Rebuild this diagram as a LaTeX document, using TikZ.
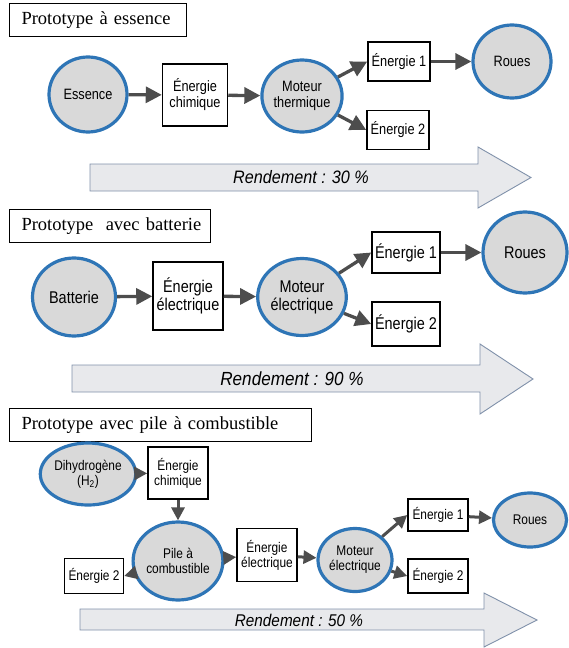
\documentclass[tikz,border=0pt]{standalone}
\usepackage{fontspec}
\setmainfont{Liberation Serif}
\newfontfamily\schemafont[FakeStretch=0.85]{Liberation Sans}
\newfontfamily\rendfont[FakeStretch=0.9]{Liberation Sans}
\usepackage{xcolor}
\usepackage{tikz}
\usetikzlibrary{arrows.meta,shapes.geometric}
\definecolor{bordbleu}{RGB}{46,117,182}
\definecolor{grisrond}{RGB}{217,217,217}
\definecolor{grisfleche}{RGB}{77,77,77}
\definecolor{fondrend}{RGB}{232,233,236}
\definecolor{bordrend}{RGB}{128,145,170}

\begin{document}
\begin{tikzpicture}[x=1pt,y=-1pt,
  titre/.style={draw,line width=1pt,anchor=north west,inner xsep=12pt,inner ysep=0pt,
    align=left,minimum height=33pt,font=\fontsize{18.5}{20}\selectfont},
  rond/.style={ellipse,draw=bordbleu,line width=3.2pt,fill=grisrond,inner sep=0pt,align=center},
  boite/.style={draw,line width=1.5pt,fill=white,inner sep=0pt,align=center},
  fl/.style={draw=grisfleche,line width=3.3pt,-{Triangle[length=16pt,width=16pt]}},
  flp/.style={draw=grisfleche,line width=3pt,-{Triangle[length=13pt,width=13pt]}},
  grande/.style={draw=bordrend,line width=0.9pt,fill=fondrend},
  rend/.style={inner sep=0pt}]
\useasboundingbox (0,0) rectangle (569,648);

% prototype a essence
\node[titre,text width=153pt] (t1) at (9,3) {\mbox{Prototype à essence}};
\begin{scope}[font=\schemafont\fontsize{15}{16}\selectfont]
\node[rond,minimum width=78pt,minimum height=75pt] (ess) at (88,94.5) {Essence};
\node[boite,minimum width=65pt,minimum height=62pt] (chim1) at (195,95) {Énergie\\chimique};
\node[rond,minimum width=78pt,minimum height=72pt] (mot1) at (302,96) {Moteur\\thermique};
\node[boite,minimum width=62pt,minimum height=39pt] (ea1) at (399,61.5) {Énergie 1};
\node[boite,minimum width=62pt,minimum height=39pt] (eb1) at (398,130) {Énergie 2};
\node[rond,minimum width=78pt,minimum height=73pt] (rou1) at (512,61.5) {Roues};
\end{scope}
\draw[fl] (ess) -- (chim1);
\draw[fl] (chim1) -- (mot1);
\draw[fl] (mot1) -- (ea1.west);
\draw[fl] (mot1) -- (eb1.west);
\draw[fl] (ea1) -- (rou1);
\draw[grande] (90,164) -- (478,164) -- (478,147) -- (531,177.5) -- (478,208) -- (478,191) -- (90,191) -- cycle;
\node[rend,font=\rendfont\itshape\fontsize{18}{19}\selectfont] (r1) at (301,177.5) {Rendement : 30 \%};

% prototype avec batterie
\node[titre,text width=177pt] (t2) at (9,209) {\mbox{Prototype \ avec batterie}};
\begin{scope}[font=\schemafont\fontsize{17}{18}\selectfont]
\node[rond,minimum width=83pt,minimum height=78pt] (bat) at (74,297) {Batterie};
\node[boite,minimum width=70pt,minimum height=68pt] (elec2) at (188,296) {Énergie\\électrique};
\node[rond,minimum width=84pt,minimum height=77pt] (mot2) at (302,297) {Moteur\\électrique};
\node[boite,minimum width=68pt,minimum height=41pt] (ea2) at (406,252.5) {Énergie 1};
\node[boite,minimum width=68pt,minimum height=44pt] (eb2) at (406,324) {Énergie 2};
\node[rond,minimum width=84pt,minimum height=81pt] (rou2) at (525,252.5) {Roues};
\end{scope}
\draw[fl] (bat) -- (elec2);
\draw[fl] (elec2) -- (mot2);
\draw[fl] (mot2) -- (ea2.west);
\draw[fl] (mot2) -- (eb2.west);
\draw[fl] (ea2) -- (rou2);
\draw[grande] (72,365) -- (480,365) -- (480,344) -- (533,379) -- (480,414) -- (480,392) -- (72,392) -- cycle;
\node[rend,font=\rendfont\itshape\fontsize{19}{20}\selectfont] (r2) at (292,379) {Rendement : 90 \%};

% prototype avec pile a combustible
\node[titre,text width=278pt] (t3) at (9,408) {\mbox{Prototype avec pile à combustible}};
\begin{scope}[font=\schemafont\fontsize{14}{15}\selectfont]
\node[rond,minimum width=82pt,minimum height=62pt] (dihy) at (88,474) {Dihydrogène\\(H\textsubscript{2})};
\node[boite,minimum width=60pt,minimum height=52pt] (chim3) at (178,473) {Énergie\\chimique};
\node[rond,minimum width=70pt,minimum height=78pt] (pile) at (178,561) {Pile à\\combustible};
\node[boite,minimum width=59pt,minimum height=35pt] (eg3) at (94,576) {Énergie 2};
\node[boite,minimum width=60pt,minimum height=53pt] (elec3) at (267,555) {Énergie\\électrique};
\node[rond,minimum width=74pt,minimum height=63pt] (mot3) at (355,560) {Moteur\\électrique};
\node[boite,minimum width=60pt,minimum height=32pt] (ea3) at (438,515) {Énergie 1};
\node[boite,minimum width=60pt,minimum height=34pt] (eb3) at (438,576) {Énergie 2};
\node[rond,minimum width=73pt,minimum height=54pt] (rou3) at (530,520) {Roues};
\end{scope}
\draw[flp] (dihy) -- (chim3);
\draw[flp] (chim3) -- (pile);
\draw[flp] (pile) -- (eg3.east);
\draw[flp] (pile) -- (elec3);
\draw[flp] (elec3) -- (mot3);
\draw[flp] (mot3) -- (ea3.west);
\draw[flp] (mot3) -- (eb3.west);
\draw[flp] (ea3) -- (rou3);
\draw[grande] (80,609) -- (484,609) -- (484,593) -- (537,620) -- (484,647) -- (484,630) -- (80,630) -- cycle;
\node[rend,font=\rendfont\itshape\fontsize{17}{18}\selectfont] (r3) at (299,620) {Rendement : 50 \%};
\end{tikzpicture}
\end{document}
